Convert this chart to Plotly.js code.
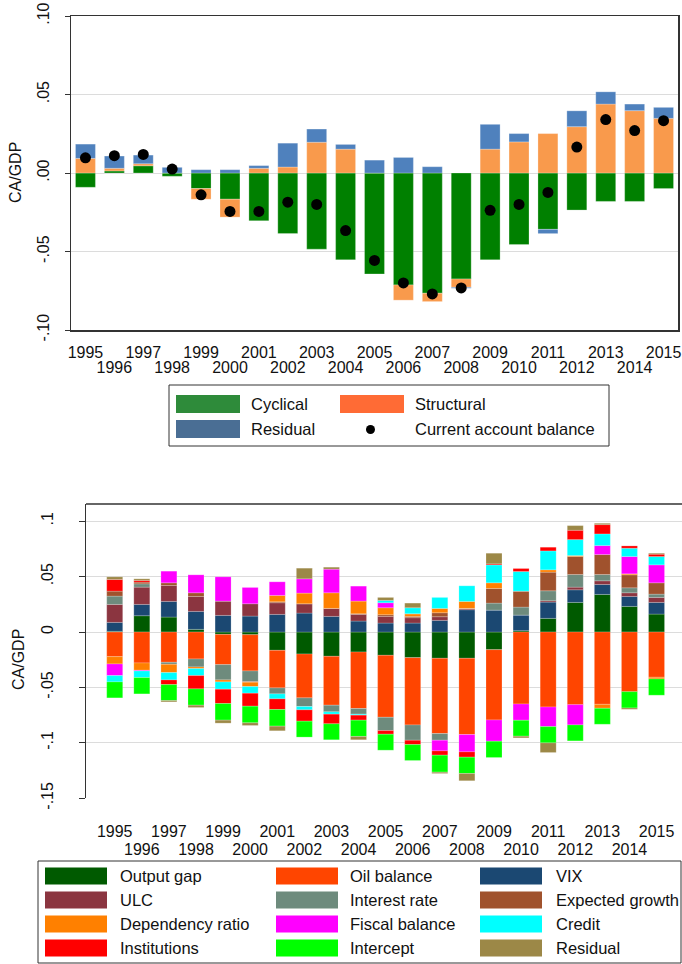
<!DOCTYPE html>
<html><head><meta charset="utf-8">
<script src="https://cdn.plot.ly/plotly-3.0.1.min.js"></script>
<style>body{margin:0;padding:0;background:#fff}#chart{width:682px;height:964px}</style>
</head><body><div id="chart"></div>
<script>
// ---------- data ----------
const years = [1995,1996,1997,1998,1999,2000,2001,2002,2003,2004,2005,2006,2007,2008,2009,2010,2011,2012,2013,2014,2015];
const oddYears = [1995,1997,1999,2001,2003,2005,2007,2009,2011,2013,2015];
const evenYears = [1996,1998,2000,2002,2004,2006,2008,2010,2012,2014];

// top panel
const topNames = ['Cyclical','Structural','Residual','Current account balance'];
const cyclical   = [-0.0091,0.0013,0.0046,-0.0021,-0.0099,-0.0167,-0.0304,-0.0386,-0.0485,-0.0553,-0.0643,-0.0713,-0.0766,-0.0675,-0.0553,-0.0456,-0.0359,-0.0236,-0.0181,-0.0181,-0.0099];
const structural = [0.0093,0.0017,0.0013,0.0,-0.0068,-0.0114,0.0030,0.0038,0.0196,0.0152,0.0,-0.0097,-0.0053,-0.0053,0.0152,0.0198,0.0251,0.0295,0.0439,0.0397,0.0348];
const residualTop= [0.0091,0.0078,0.0055,0.0036,0.0021,0.0021,0.0017,0.0152,0.0084,0.0030,0.0082,0.0099,0.0040,-0.0006,0.0158,0.0053,-0.0027,0.0101,0.0078,0.0042,0.0070];
const caBalance  = [0.0097,0.0110,0.0118,0.0025,-0.0139,-0.0245,-0.0245,-0.0186,-0.0200,-0.0367,-0.0557,-0.0700,-0.0770,-0.0732,-0.0238,-0.0200,-0.0124,0.0165,0.0340,0.0270,0.0333];
const topYTicks = [-0.1,-0.05,0,0.05,0.1];
const topYText  = ['-.10','-.05','.00','.05','.10'];

// bottom panel (stacking order = legend order)
const botNames = ['Output gap','Oil balance','VIX','ULC','Interest rate','Expected growth','Dependency ratio','Fiscal balance','Credit','Institutions','Intercept','Residual'];
const outputGap  = [0.0006,0.0147,0.0135,0.0024,-0.0021,-0.0024,-0.0165,-0.0198,-0.0219,-0.0180,-0.0210,-0.0231,-0.0237,-0.0237,-0.0159,0.0012,0.0123,0.0267,0.0339,0.0231,0.0162];
const oilBalance = [-0.0222,-0.0279,-0.0273,-0.0243,-0.0273,-0.0327,-0.0339,-0.0396,-0.0441,-0.0510,-0.0559,-0.0607,-0.0679,-0.0688,-0.0634,-0.0649,-0.0676,-0.0655,-0.0652,-0.0538,-0.0408];
const vix        = [0.0081,0.0102,0.0141,0.0162,0.0150,0.0144,0.0159,0.0171,0.0141,0.0099,0.0081,0.0081,0.0105,0.0201,0.0198,0.0141,0.0147,0.0114,0.0090,0.0090,0.0105];
const ulc        = [0.0162,0.0156,0.0144,0.0135,0.0129,0.0111,0.0105,0.0084,0.0072,0.0060,0.0060,0.0048,0.0033,0.0012,0.0,0.0,0.0012,0.0024,0.0033,0.0033,0.0045];
const interestRate=[0.0075,0.0030,-0.0018,-0.0072,-0.0138,-0.0096,-0.0054,-0.0078,-0.0060,-0.0051,-0.0120,-0.0138,-0.0060,0.0,0.0063,0.0072,0.0090,0.0114,0.0057,0.0045,0.0030];
const expGrowth  = [0.0045,0.0015,0.0024,0.0033,0.0,-0.0006,0.0009,0.0,0.0,0.0006,0.0015,0.0012,0.0036,0.0,0.0132,0.0144,0.0168,0.0162,0.0180,0.0117,0.0102];
const depRatio   = [-0.0066,-0.0066,-0.0075,-0.0015,-0.0018,-0.0039,0.0057,0.0096,0.0141,0.0114,0.0063,0.0024,0.0039,0.0063,0.0051,0.0,0.0021,0.0009,-0.0036,0.0009,-0.0015];
const fiscal     = [-0.0105,-0.0006,0.0105,0.0162,0.0219,0.0147,0.0123,0.0129,0.0213,0.0135,0.0045,0.0,-0.0096,-0.0156,-0.0192,-0.0147,-0.0177,-0.0183,0.0081,0.0156,0.0162];
const credit     = [-0.0057,-0.0060,-0.0066,-0.0063,-0.0066,-0.0060,-0.0045,-0.0030,-0.0021,-0.0009,0.0021,0.0054,0.0099,0.0141,0.0162,0.0177,0.0171,0.0144,0.0105,0.0075,0.0075];
const institutions=[0.0105,0.0015,-0.0042,-0.0120,-0.0129,-0.0117,-0.0096,-0.0102,-0.0087,-0.0045,-0.0033,-0.0039,-0.0039,-0.0048,0.0009,0.0027,0.0033,0.0084,0.0084,0.0021,0.0021];
const intercept  = [-0.0144,-0.0147,-0.0144,-0.0147,-0.0150,-0.0150,-0.0150,-0.0144,-0.0144,-0.0147,-0.0144,-0.0144,-0.0153,-0.0147,-0.0147,-0.0144,-0.0147,-0.0144,-0.0144,-0.0147,-0.0147];
const residualBot= [0.0024,0.0015,-0.0012,-0.0021,-0.0027,-0.0024,-0.0042,0.0096,0.0018,-0.0030,0.0027,0.0042,-0.0012,-0.0066,0.0096,-0.0015,-0.0087,0.0042,0.0012,-0.0012,0.0009];
const botYTicks = [-0.15,-0.1,-0.05,0,0.05,0.1];
const botYText  = ['-.15','-.1','-.05','0','.05','.1'];

// ---------- styles ----------
const topBarColors = ['#008000','#F99A4C','#4F81BD'];
const topLegColors = ['#2E8B3A','#FF6B35','#4A6E94'];
const botColors = ['#005A00','#FF4500','#1B4872','#8B3540','#6E8B7D','#A0522D','#FF8000','#FF00FF','#00FFFF','#FF0000','#00FF00','#9C8847'];
const FONT = 'Arial, "Liberation Sans", sans-serif';
const W = 682, H = 964;
const px = x => x / W, py = y => 1 - y / H;

const traces = [];
[cyclical, structural, residualTop].forEach((v,i)=>{
  traces.push({type:'bar', x:years, y:v, name:topNames[i], xaxis:'x', yaxis:'y', width:0.69,
    marker:{color:topBarColors[i], line:{color:'rgba(255,255,255,0.5)', width:0.5}}, hoverinfo:'x+y+name'});
});
traces.push({type:'scatter', mode:'markers', x:years, y:caBalance, name:topNames[3], xaxis:'x', yaxis:'y',
  marker:{color:'#000', size:11}});
[outputGap, oilBalance, vix, ulc, interestRate, expGrowth, depRatio, fiscal, credit, institutions, intercept, residualBot].forEach((v,i)=>{
  traces.push({type:'bar', x:years, y:v, name:botNames[i], xaxis:'x2', yaxis:'y2', width:0.59,
    marker:{color:botColors[i], line:{color:'rgba(255,255,255,0.4)', width:0.5}}});
});
// placeholders for the second row of year labels
traces.push({type:'scatter', x:[], y:[], xaxis:'x3', yaxis:'y', showlegend:false, hoverinfo:'skip'});
traces.push({type:'scatter', x:[], y:[], xaxis:'x4', yaxis:'y2', showlegend:false, hoverinfo:'skip'});

const tickFont = {family:FONT, size:16, color:'#111'};
const gridC = '#dcdcdc';
const LEGF = 16.5;

const shapes = [];
const annotations = [];
// y titles
annotations.push({xref:'paper', yref:'paper', x:px(15), y:py(173), text:'CA/GDP', textangle:-90, showarrow:false, font:{family:FONT,size:16,color:'#111'}, xanchor:'center', yanchor:'middle'});
annotations.push({xref:'paper', yref:'paper', x:px(18), y:py(660), text:'CA/GDP', textangle:-90, showarrow:false, font:{family:FONT,size:16,color:'#111'}, xanchor:'center', yanchor:'middle'});

// top frame line of the bottom panel
shapes.push({type:'line', xref:'x2 domain', yref:'y2 domain', x0:0, x1:1, y0:1, y1:1, line:{color:'#333', width:1.5}});

// top legend
shapes.push({type:'rect', xref:'paper', yref:'paper', x0:px(169), x1:px(609), y0:py(385), y1:py(446), line:{color:'#333', width:1}, fillcolor:'rgba(0,0,0,0)'});
const topLeg = [
  {sx:176, tx:249, cy:404, c:topLegColors[0], n:topNames[0]},
  {sx:340, tx:413, cy:404, c:topLegColors[1], n:topNames[1]},
  {sx:176, tx:249, cy:429, c:topLegColors[2], n:topNames[2]}
];
topLeg.forEach(e=>{
  shapes.push({type:'rect', xref:'paper', yref:'paper', x0:px(e.sx), x1:px(e.sx+64), y0:py(e.cy+9), y1:py(e.cy-9), fillcolor:e.c, line:{width:0}});
  annotations.push({xref:'paper', yref:'paper', x:px(e.tx), y:py(e.cy), text:e.n, showarrow:false, xanchor:'left', yanchor:'middle', font:{family:FONT,size:LEGF,color:'#111'}});
});
shapes.push({type:'circle', xref:'paper', yref:'paper', x0:px(366), x1:px(375), y0:py(434), y1:py(425), fillcolor:'#000', line:{width:0}});
annotations.push({xref:'paper', yref:'paper', x:px(413), y:py(429), text:topNames[3], showarrow:false, xanchor:'left', yanchor:'middle', font:{family:FONT,size:LEGF,color:'#111'}});

// bottom legend
shapes.push({type:'rect', xref:'paper', yref:'paper', x0:px(38), x1:px(681), y0:py(861), y1:py(963), line:{color:'#333', width:1}, fillcolor:'rgba(0,0,0,0)'});
const colSw = [45,276,480], colTx = [118,348,554], rowY = [876,900,924,948];
botNames.forEach((n,i)=>{
  const r = Math.floor(i/3), c = i%3;
  shapes.push({type:'rect', xref:'paper', yref:'paper', x0:px(colSw[c]), x1:px(colSw[c]+62), y0:py(rowY[r]+8.5), y1:py(rowY[r]-8.5), fillcolor:botColors[i], line:{width:0}});
  annotations.push({xref:'paper', yref:'paper', x:px(colTx[c]), y:py(rowY[r]), text:n, showarrow:false, xanchor:'left', yanchor:'middle', font:{family:FONT,size:LEGF,color:'#111'}});
});

const xCommon = {type:'linear', tickmode:'array', showgrid:false, zeroline:false, ticks:'', tickfont:tickFont, fixedrange:true};
const layout = {
  width:W, height:H, autosize:false,
  margin:{l:0,r:0,t:0,b:0},
  paper_bgcolor:'#fff', plot_bgcolor:'#fff',
  barmode:'relative', showlegend:false,
  font:{family:FONT, color:'#111'},
  xaxis: Object.assign({}, xCommon, {domain:[px(71), px(678)], anchor:'y', range:[1994.5,2015.5], tickvals:oddYears, ticktext:oddYears.map(String),
    showline:true, mirror:true, linecolor:'#333', linewidth:1.5, ticklabelstandoff:7}),
  xaxis3: Object.assign({}, xCommon, {overlaying:'x', anchor:'y', side:'bottom', range:[1994.5,2015.5], tickvals:evenYears, ticktext:evenYears.map(String), showline:false, ticklabelstandoff:26}),
  yaxis: {domain:[py(330), py(16)], anchor:'x', range:[-0.1,0.1], tickmode:'array', tickvals:topYTicks, ticktext:topYText, tickangle:-90,
    showgrid:true, gridcolor:gridC, gridwidth:1, zeroline:false, showline:true, mirror:true, linecolor:'#333', linewidth:1.5,
    ticks:'outside', ticklen:5, tickcolor:'#333', tickfont:tickFont, ticklabelstandoff:9, fixedrange:true},
  xaxis2: Object.assign({}, xCommon, {domain:[px(86), 1], anchor:'y2', range:[1993.94,2015.94], tickvals:oddYears, ticktext:oddYears.map(String), showline:false, ticklabelstandoff:22}),
  xaxis4: Object.assign({}, xCommon, {overlaying:'x2', anchor:'y2', side:'bottom', range:[1993.94,2015.94], tickvals:evenYears, ticktext:evenYears.map(String), showline:false, ticklabelstandoff:40}),
  yaxis2: {domain:[py(798.3), py(504)], anchor:'x2', range:[-0.15,0.1155], tickmode:'array', tickvals:botYTicks, ticktext:botYText, tickangle:-90,
    showgrid:true, gridcolor:gridC, gridwidth:1, zeroline:false, showline:true, linecolor:'#333', linewidth:1.5,
    ticks:'outside', ticklen:6, tickcolor:'#333', tickfont:tickFont, ticklabelstandoff:19, fixedrange:true},
  shapes:shapes, annotations:annotations
};
Plotly.newPlot('chart', traces, layout, {staticPlot:true, displayModeBar:false});
</script></body></html>
